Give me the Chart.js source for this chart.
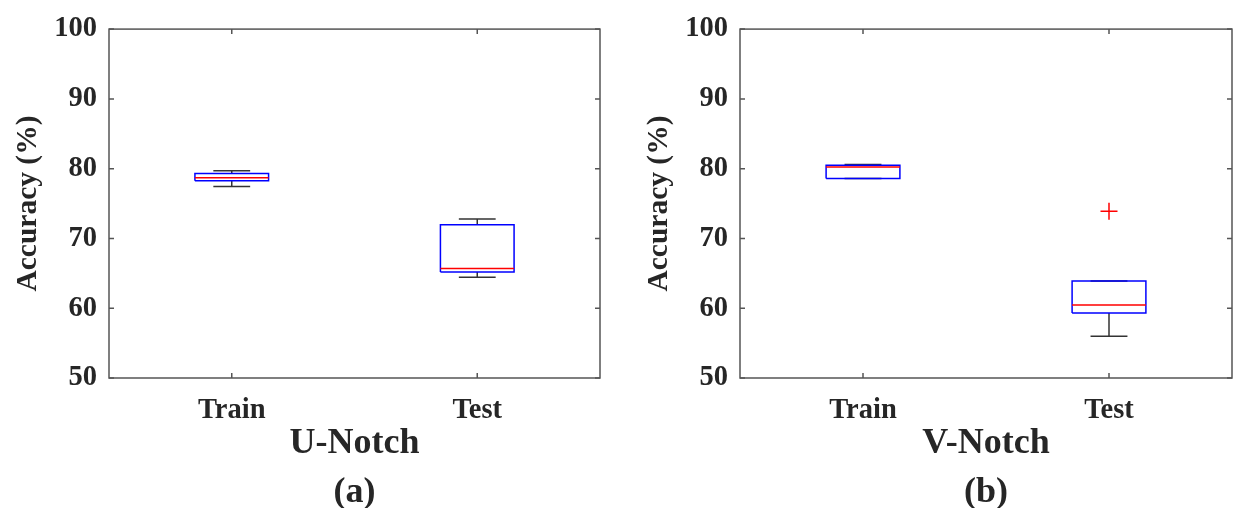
<!DOCTYPE html>
<html>
<head>
<meta charset="utf-8">
<script src="https://cdn.jsdelivr.net/npm/chart.js@4.4.1/dist/chart.umd.min.js"></script>
<style>
  html, body { margin: 0; padding: 0; background: #fff; }
  #wrap { position: relative; width: 1233px; height: 508px; }
  canvas { position: absolute; top: 0; }
</style>
</head>
<body>
<div id="wrap">
  <canvas id="chartU" width="616" height="508" style="left:0"></canvas>
  <canvas id="chartV" width="617" height="508" style="left:616px"></canvas>
</div>
<script>
// categories
const groups = ['Train', 'Test'];
const yTicks = [50, 60, 70, 80, 90, 100];

// U-Notch (a)
const uLower  = [77.45, 64.45];
const uQ1     = [78.25, 65.2];
const uMedian = [78.7, 65.7];
const uQ3     = [79.3, 71.95];
const uUpper  = [79.7, 72.8];
const uOutliers = [[], []];

// V-Notch (b)
const vLower  = [78.6, 56.0];
const vQ1     = [78.6, 59.3];
const vMedian = [80.25, 60.45];
const vQ3     = [80.5, 63.9];
const vUpper  = [80.6, 63.9];
const vOutliers = [[], [73.9]];

const FONT = "'Liberation Serif', 'Times New Roman', serif";
const TEXT = '#262626';
const AXIS = '#555';
const BOX_HALF = 0.15, CAP_HALF = 0.075;

// box plot pieces as line datasets (gaps via null)
function boxDatasets(low, q1, med, q3, high, outliers) {
  const whisk = [], box = [], mid = [], out = [];
  const gap = x => ({ x, y: null });
  groups.forEach((g, i) => {
    const x = i + 1;
    whisk.push(
      { x, y: q3[i] }, { x, y: high[i] }, gap(x),
      { x: x - CAP_HALF, y: high[i] }, { x: x + CAP_HALF, y: high[i] }, gap(x),
      { x, y: q1[i] }, { x, y: low[i] }, gap(x),
      { x: x - CAP_HALF, y: low[i] }, { x: x + CAP_HALF, y: low[i] }, gap(x)
    );
    box.push(
      { x: x - BOX_HALF, y: q1[i] }, { x: x + BOX_HALF, y: q1[i] },
      { x: x + BOX_HALF, y: q3[i] }, { x: x - BOX_HALF, y: q3[i] },
      { x: x - BOX_HALF, y: q1[i] }, gap(x)
    );
    mid.push({ x: x - BOX_HALF, y: med[i] }, { x: x + BOX_HALF, y: med[i] }, gap(x));
    outliers[i].forEach(v => out.push({ x, y: v }));
  });
  const line = (data, color) => ({
    type: 'line', data, borderColor: color, borderWidth: 1.5,
    pointRadius: 0, spanGaps: false, fill: false, tension: 0
  });
  return [
    line(mid, '#ff0000'),
    { type: 'line', data: out, showLine: false, pointStyle: 'cross',
      pointRadius: 8.5, borderColor: '#ff0000', borderWidth: 1.5 },
    line(box, '#0000ff'),
    line(whisk, '#333333')
  ];
}

// frame with inward ticks (MATLAB look)
const frame = {
  id: 'frame',
  afterDraw(chart) {
    const { ctx, chartArea: a, scales: { x, y } } = chart;
    ctx.save();
    ctx.strokeStyle = AXIS;
    ctx.lineWidth = 1.5;
    ctx.strokeRect(a.left, a.top, a.right - a.left, a.bottom - a.top);
    ctx.beginPath();
    y.ticks.forEach(t => {
      const py = y.getPixelForValue(t.value);
      ctx.moveTo(a.left, py); ctx.lineTo(a.left + 5, py);
      ctx.moveTo(a.right, py); ctx.lineTo(a.right - 5, py);
    });
    x.ticks.forEach(t => {
      const px = x.getPixelForValue(t.value);
      ctx.moveTo(px, a.bottom); ctx.lineTo(px, a.bottom - 5);
      ctx.moveTo(px, a.top); ctx.lineTo(px, a.top + 5);
    });
    ctx.stroke();
    ctx.restore();
  }
};

function makeChart(id, title, label, yWidth, padRight, stats) {
  return new Chart(document.getElementById(id), {
    data: { datasets: boxDatasets(...stats) },
    options: {
      responsive: false,
      animation: false,
      devicePixelRatio: 1,
      layout: { autoPadding: false, padding: { left: 0, right: padRight, top: 24, bottom: 0 } },
      plugins: {
        legend: { display: false },
        tooltip: { enabled: false },
        title: {
          display: true, position: 'bottom', fullSize: false, text: label, color: TEXT,
          font: { family: FONT, size: 36, weight: 'bold', lineHeight: '31px' },
          padding: { top: 0, bottom: 0 }
        }
      },
      scales: {
        x: {
          type: 'linear', min: 0.5, max: groups.length + 0.5,
          afterBuildTicks: s => { s.ticks = groups.map((g, i) => ({ value: i + 1 })); },
          afterFit: s => { s.height = 99; s.paddingLeft = 0; s.paddingRight = 0; },
          grid: { display: false, drawTicks: false },
          border: { display: false },
          ticks: {
            padding: 16, color: TEXT, autoSkip: false, maxRotation: 0,
            font: { family: FONT, size: 28.5, weight: 'bold' },
            callback: v => groups[v - 1] ?? ''
          },
          title: {
            display: true, text: title, color: TEXT,
            font: { family: FONT, size: 36, weight: 'bold' },
            padding: { top: 0, bottom: 11.4 }
          }
        },
        y: {
          min: yTicks[0], max: yTicks[yTicks.length - 1],
          afterBuildTicks: s => { s.ticks = yTicks.map(v => ({ value: v })); },
          afterFit: s => { s.width = yWidth; },
          grid: { display: false, drawTicks: false },
          border: { display: false },
          ticks: {
            padding: 12, color: TEXT,
            font: { family: FONT, size: 28.5, weight: 'bold' }
          },
          title: {
            display: true, text: 'Accuracy (%)', color: TEXT,
            font: { family: FONT, size: 29.5, weight: 'bold' },
            padding: { top: yWidth - 109 + 11, bottom: 0 }
          }
        }
      }
    },
    plugins: [frame]
  });
}

makeChart('chartU', 'U-Notch', '(a)', 109, 16, [uLower, uQ1, uMedian, uQ3, uUpper, uOutliers]);
makeChart('chartV', 'V-Notch', '(b)', 124, 1, [vLower, vQ1, vMedian, vQ3, vUpper, vOutliers]);
</script>
</body>
</html>
